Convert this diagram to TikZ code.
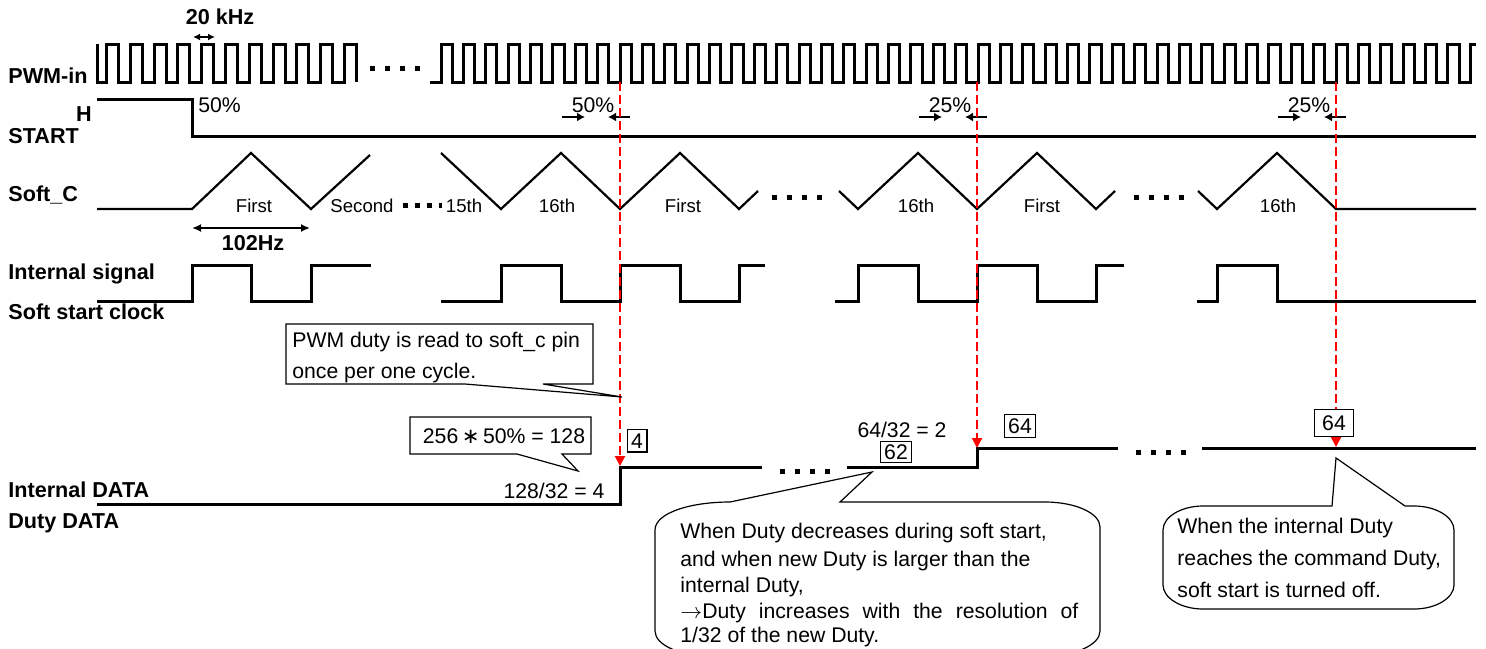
\documentclass[tikz,border=0pt]{standalone}
\usepackage{fontspec}
\setmainfont{Liberation Sans}
\newfontfamily\dvsans{DejaVu Sans}
\usetikzlibrary{arrows.meta}
\usetikzlibrary{positioning}

\tikzset{
  sig/.style={line width=1.5pt},
  tri/.style={line width=1.1pt},
  lbl/.style={font=\fontsize{10.8}{13}\selectfont\bfseries, inner sep=0pt},
  txt/.style={font=\fontsize{10.6}{13}\selectfont, inner sep=0pt},
  cyc/.style={font=\fontsize{9.3}{11}\selectfont, inner sep=0pt},
  numbox/.style={draw, line width=0.6pt, fill=white, font=\fontsize{10.6}{13}\selectfont, inner xsep=2pt, inner ysep=2pt},
  bubble/.style={draw, line width=0.6pt, fill=white},
  reddash/.style={red, line width=1pt, dash pattern=on 4.5pt off 2pt, -{Triangle[length=5pt, width=5pt]}},
  gapdots/.style={line width=2.5pt, dash pattern=on 2.5pt off 5pt},
  smalldots/.style={line width=2.5pt, dash pattern=on 2.5pt off 3.5pt},
  spanarr/.style={line width=1pt, {Latex[length=4.5pt,width=4pt]}-{Latex[length=4.5pt,width=4pt]}},
  duty/.style={line width=1.1pt, -{Latex[length=4pt,width=4.5pt]}}
}

\begin{document}
\begin{tikzpicture}[x=0.5pt, y=-0.5pt]
\useasboundingbox (0,0) rectangle (1486,648);
\clip (0,0) rectangle (1486,648);

% signal names
\node[lbl, anchor=base west] (pwmin) at (8,83)  {PWM-in};
\node[lbl, anchor=base]      (hlev)  at (84,121) {H};
\node[lbl, anchor=base west] (start) at (8,143) {START};
\node[lbl, anchor=base west] (softc) at (8,201) {Soft\_C};
\node[lbl, anchor=base west] (isig)  at (8,279) {Internal signal};
\node[lbl, anchor=base west] (sclk)  at (8,319) {Soft start clock};
\node[lbl, anchor=base west] (idata) at (8,497) {Internal DATA};
\node[lbl, anchor=base west] (ddata) at (8,528) {Duty DATA};

% PWM-in
\draw[sig] (97,44) -- (97,82)
  foreach \k in {0,...,10} { -- ({106.5+23.8*\k},82) -- ({106.5+23.8*\k},44)
                             -- ({118.5+23.8*\k},44) -- ({118.5+23.8*\k},82) };
\draw[gapdots] (370,68) -- (420,68);
\draw[sig] (430,82)
  foreach \k in {0,...,45} { -- ({441+22.375*\k},82) -- ({441+22.375*\k},44)
                             -- ({452.2+22.375*\k},44) -- ({452.2+22.375*\k},82) }
  -- (1470.25,82) -- (1470.25,44) -- (1476,44);
\node[lbl, anchor=base] (pwmf) at (220,25) {20 kHz};
\draw[spanarr, {Latex[length=3.5pt,width=3.5pt]}-{Latex[length=3.5pt,width=3.5pt]}] (193,37) -- (215,37);

% START
\draw[sig] (97,99) -- (192,99) -- (192,136) -- (1476,136);
\node[txt, anchor=base west] (startpct) at (198,112) {50\%};
\foreach \x/\p in {620/50, 977/25, 1336/25} {
  \draw[duty] ({\x-58},117) -- ({\x-35},117);
  \draw[duty] ({\x+10},117) -- ({\x-12},117);
  \node[txt, anchor=base] (pct\x) at ({\x-27},112) {\p\%};
}

% Soft_C
\draw[tri] (97,209) -- (192,209) -- (251,153) -- (311,209) -- (370,155);
\draw[tri] (441,153) -- (501,209) -- (561,153) -- (620,209) -- (680,153) -- (739,209) -- (758,191);
\draw[tri] (839,191) -- (858,209) -- (918,153) -- (977,209) -- (1037,153) -- (1096,209) -- (1115,191);
\draw[tri] (1198,191) -- (1217,209) -- (1277,153) -- (1336,209) -- (1476,209);
\draw[smalldots] (403,205) -- (442,205);
\draw[gapdots] (772,197) -- (822,197);
\draw[gapdots] (1134,197) -- (1184,197);
\node[cyc, anchor=base] (c1)  at (254,212)  {First};
\node[cyc, anchor=base] (c2)  at (362,212)  {Second};
\node[cyc, anchor=base] (c15) at (464,212)  {15th};
\node[cyc, anchor=base] (c16) at (557,212)  {16th};
\node[cyc, anchor=base] (d1)  at (683,212)  {First};
\node[cyc, anchor=base] (d16) at (916,212)  {16th};
\node[cyc, anchor=base] (e1)  at (1042,212) {First};
\node[cyc, anchor=base] (e16) at (1278,212) {16th};
\draw[spanarr] (192,228) -- (310,228);
\node[lbl, anchor=base] (cfreq) at (253,250) {102Hz};

% Internal signal / soft start clock
\draw[sig] (97,301) -- (192,301) -- (192,265) -- (251,265) -- (251,301) -- (311,301) -- (311,265) -- (371,265);
\draw[sig] (441,301) -- (501,301) -- (501,265) -- (561,265) -- (561,301) -- (620,301) -- (620,265)
  -- (680,265) -- (680,301) -- (739,301) -- (739,265) -- (765,265);
\draw[sig] (835,301) -- (858,301) -- (858,265) -- (918,265) -- (918,301) -- (977,301) -- (977,265)
  -- (1037,265) -- (1037,301) -- (1096,301) -- (1096,265) -- (1124,265);
\draw[sig] (1197,301) -- (1217,301) -- (1217,265) -- (1277,265) -- (1277,301) -- (1476,301);

% Internal DATA
\draw[sig] (97,504) -- (620,504) -- (620,467) -- (762,467);
\draw[sig] (847,467) -- (977,467) -- (977,448) -- (1118,448);
\draw[sig] (1202,448) -- (1476,448);
\draw[gapdots] (780,471) -- (830,471);
\draw[gapdots] (1136,452) -- (1186,452);

% read points
\coordinate (rd1a) at (620,82);  \coordinate (rd1b) at (620,466);
\coordinate (rd2a) at (977,82);  \coordinate (rd2b) at (977,448);
\coordinate (rd3a) at (1336,82); \coordinate (rd3b) at (1336,447);
\draw[reddash] (rd1a) -- (rd1b);
\draw[reddash] (rd2a) -- (rd2b);
\draw[reddash] (rd3a) -- (rd3b);

% values
\node[txt, anchor=base] (div1) at (554,498) {128/32 = 4};
\node[numbox, anchor=base] (v4) at (637,448) {4};
\node[txt, anchor=base] (div2) at (902,437) {64/32 = 2};
\node[numbox, anchor=base, inner ysep=1.5pt] (v62) at (896,459) {62};
\node[numbox, anchor=base] (v64) at (1020,433) {64};
\node[numbox, anchor=base, inner xsep=4pt, inner ysep=3pt] (v64b) at (1334,430) {64};

% callouts
\draw[bubble] (286,324) -- (593,324) -- (593,384) -- (543,384) -- (622,397) -- (465,384) -- (286,384) -- cycle;
\node[txt, anchor=base west] (read1) at (292,347) {PWM duty is read to soft\_c pin};
\node[txt, anchor=base west] (read2) at (292,378) {once per one cycle.};

\draw[bubble] (410,417) -- (591,417) -- (591,454) -- (562,454) -- (578,471) -- (517,454) -- (410,454) -- cycle;
\node[txt, anchor=base] (calc1) at (504,443) {256{\dvsans\,∗\,}50\% = 128};

\draw[bubble] (730,502) -- (872,472) -- (840,502) -- (1045,502)
  .. controls (1075,502) and (1100,513) .. (1100,527) -- (1100,631)
  .. controls (1100,645) and (1075,656) .. (1045,656) -- (710,656)
  .. controls (680,656) and (655,645) .. (655,631) -- (655,530)
  .. controls (655,513) and (690,502) .. (730,502) -- cycle;
\node[txt, anchor=base west] (upd1) at (680,538) {When Duty decreases during soft start,};
\node[txt, anchor=base west] (upd2) at (680,566) {and when new Duty is larger than the};
\node[txt, anchor=base west] (upd3) at (680,592) {internal Duty,};
\node[txt, anchor=base west] (upd4) at (680,618) {\makebox[199pt][s]{$\rightarrow$Duty increases with the resolution of}};
\node[txt, anchor=base west] (upd5) at (680,642) {1/32 of the new Duty.};

\draw[bubble] (1332,506) -- (1336,458) -- (1405,506) -- (1414,506)
  .. controls (1436,506) and (1454,517) .. (1454,530) -- (1454,585)
  .. controls (1454,598) and (1436,609) .. (1414,609) -- (1203,609)
  .. controls (1181,609) and (1163,598) .. (1163,585) -- (1163,530)
  .. controls (1163,517) and (1181,506) .. (1203,506) -- cycle;
\node[txt, anchor=base west] (off1) at (1177,533) {When the internal Duty};
\node[txt, anchor=base west] (off2) at (1177,565) {reaches the command Duty,};
\node[txt, anchor=base west] (off3) at (1177,597) {soft start is turned off.};
\end{tikzpicture}
\end{document}
